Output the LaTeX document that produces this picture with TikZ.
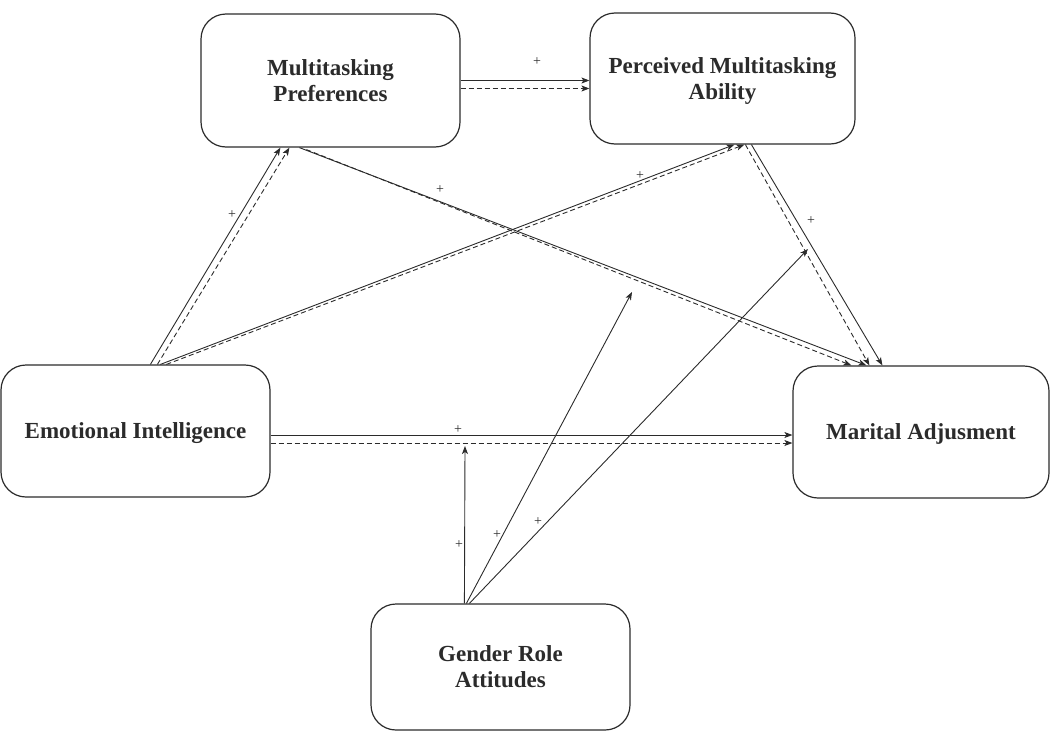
\documentclass[tikz,border=0pt]{standalone}
\usepackage{fontspec}
\setmainfont{Liberation Serif}
\usetikzlibrary{arrows.meta}
\definecolor{ink}{HTML}{2B2B2B}
\tikzset{
  box/.style={draw=ink, line width=1.2pt, rounded corners=25pt, align=center,
    font=\fontsize{23}{26}\selectfont\bfseries, text=ink, inner sep=0pt, text depth=0pt},
  link/.style={draw=ink, line width=0.9pt, -{Stealth[length=8pt,width=6pt,inset=2pt]}},
  dlink/.style={link, dash pattern=on 5pt off 3pt},
  sign/.style={font=\fontsize{14}{14}\selectfont, text=ink, inner sep=0pt}
}
\begin{document}
\begin{tikzpicture}[x=1pt, y=-1pt]
\useasboundingbox (0,0) rectangle (1051,731);

% constructs
\node[box, minimum width=259pt, minimum height=133pt] (mp)  at (330.5,80.5) {Multitasking\\Preferences};
\node[box, minimum width=265pt, minimum height=131pt] (pma) at (722.5,78.5) {Perceived Multitasking\\Ability};
\node[box, minimum width=269pt, minimum height=132pt] (ei)  at (135.5,431) {Emotional Intelligence};
\node[box, minimum width=256pt, minimum height=132pt] (ma)  at (921,432) {Marital Adjusment};
\node[box, minimum width=259pt, minimum height=126pt] (gra) at (500.5,667) {Gender Role\\Attitudes};

% targets of the moderating paths
\coordinate (m1) at (465,446);
\coordinate (m2) at (632,292);
\coordinate (m3) at (808,249);

% preferences -> perceived ability
\draw[link]  (mp.east) -- (mp.east -| pma.west);
\draw[dlink] ([yshift=-8pt]mp.east) -- ([yshift=-8pt]mp.east -| pma.west);

% emotional intelligence -> preferences
\draw[link]  ([xshift=150pt]ei.north west) -- ([xshift=80pt]mp.south west);
\draw[dlink] ([xshift=157pt]ei.north west) -- ([xshift=89pt]mp.south west);

% emotional intelligence -> perceived ability
\draw[link]  ([xshift=160pt]ei.north west) -- ([xshift=145pt]pma.south west);
\draw[dlink] ([xshift=166pt]ei.north west) -- ([xshift=155pt]pma.south west);

% preferences -> marital adjustment
\draw[link]  ([xshift=99pt]mp.south west) -- ([xshift=74pt]ma.north west);
\draw[dlink] ([xshift=106pt,yshift=-2pt]mp.south west) -- ([xshift=59pt]ma.north west);

% perceived ability -> marital adjustment
\draw[link]  ([xshift=162pt]pma.south west) -- ([xshift=90pt]ma.north west);
\draw[dlink] ([xshift=156pt]pma.south west) -- ([xshift=77pt]ma.north west);

% emotional intelligence -> marital adjustment
\draw[link]  ([yshift=-4pt]ei.east) -- ([yshift=-4pt]ei.east -| ma.west);
\draw[dlink] ([yshift=-12pt]ei.east) -- ([yshift=-12pt]ei.east -| ma.west);

% gender role attitudes as moderator
\draw[link] ([xshift=94pt]gra.north west) -- (m1);
\draw[link] ([xshift=96pt]gra.north west) -- (m2);
\draw[link] ([xshift=99pt]gra.north west) -- (m3);

% signs
\node[sign] (p1) at (537,62)  {+};
\node[sign] (p2) at (232,215) {+};
\node[sign] (p3) at (440,190) {+};
\node[sign] (p4) at (640,176) {+};
\node[sign] (p5) at (811,221) {+};
\node[sign] (p6) at (458,430) {+};
\node[sign] (p7) at (459,545) {+};
\node[sign] (p8) at (497,535) {+};
\node[sign] (p9) at (538,522) {+};
\end{tikzpicture}
\end{document}
